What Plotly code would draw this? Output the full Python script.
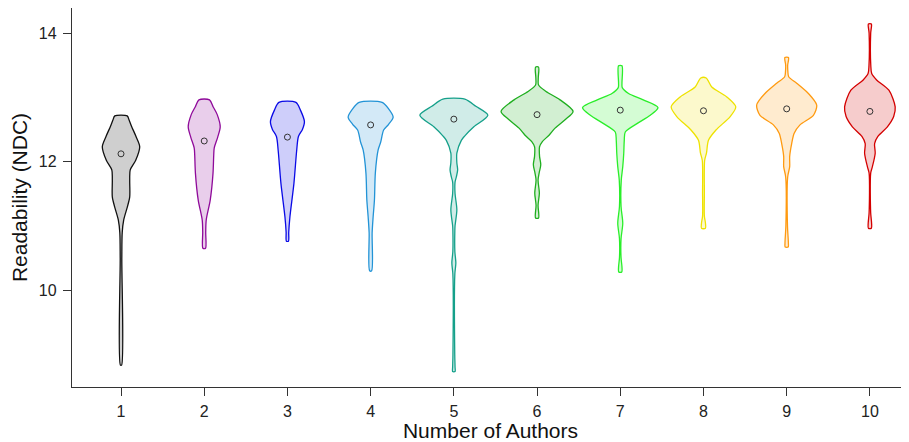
import plotly.graph_objects as go

# Number of authors (categories)
authors = [1, 2, 3, 4, 5, 6, 7, 8, 9, 10]

# Violin density profiles: readability levels (top -> bottom)
# and relative half-widths (density) at those levels.
v1_y = [12.71, 12.65, 12.55, 12.39, 12.23, 12.02, 11.87, 11.71, 11.45, 11.29, 11.09, 10.89, 10.5, 8.83]
v1_d = [6.2, 8.0, 10.5, 15.0, 18.7, 14.7, 9.2, 8.7, 8.7, 6.3, 2.7, 1.2, 0.8, 0.6]

v2_y = [12.96, 12.85, 12.73, 12.54, 12.38, 12.21, 12.10, 11.82, 11.40, 11.09, 10.9, 10.65]
v2_d = [5.3, 9.0, 13.0, 16.0, 13.5, 10.0, 9.5, 8.8, 6.0, 2.0, 1.5, 1.3]

v3_y = [12.92, 12.80, 12.62, 12.50, 12.39, 12.18, 11.66, 11.14, 10.9, 10.76]
v3_d = [8.5, 13.0, 17.0, 15.0, 11.0, 9.3, 6.5, 2.5, 1.3, 1.0]

v4_y = [12.92, 12.82, 12.69, 12.58, 12.49, 12.30, 12.18, 11.82, 11.40, 11.14, 10.89, 10.30]
v4_d = [11.5, 18.0, 22.5, 18.0, 13.0, 10.0, 7.5, 4.7, 3.8, 2.5, 1.5, 1.0]

v5_y = [12.97, 12.86, 12.72, 12.54, 12.40, 12.33, 12.13, 11.98, 11.87, 11.76, 11.68, 11.50,
        11.25, 11.0, 10.93, 10.6, 10.42, 10.25, 9.0, 8.80, 8.73]
v5_d = [11.0, 22.0, 34.0, 20.0, 11.0, 7.5, 3.0, 3.0, 3.8, 2.5, 1.2, 1.2,
        3.0, 1.2, 1.0, 1.0, 2.0, 1.0, 0.9, 1.2, 1.2]

v6_y = [13.47, 13.30, 13.19, 13.09, 12.96, 12.78, 12.65, 12.52, 12.41, 12.31, 12.23, 12.08,
        11.95, 11.83, 11.71, 11.51, 11.32, 11.12]
v6_d = [1.5, 1.2, 1.5, 9.0, 23.0, 36.0, 28.0, 18.0, 12.0, 5.3, 2.5, 2.5,
        3.7, 2.2, 1.0, 2.3, 1.0, 1.5]

v7_y = [13.49, 13.22, 13.15, 13.06, 12.96, 12.84, 12.72, 12.59, 12.46, 12.33, 12.13, 11.92,
        11.71, 11.3, 11.04, 10.8, 10.5, 10.36, 10.28]
v7_d = [1.7, 1.7, 2.0, 8.3, 23.0, 37.7, 30.0, 16.7, 5.0, 4.0, 3.5, 2.5,
        1.0, 0.8, 2.5, 0.8, 0.8, 1.7, 1.5]

v8_y = [13.30, 13.16, 13.01, 12.85, 12.70, 12.49, 12.33, 12.13, 12.02, 11.5, 11.15, 11.04, 10.96]
v8_d = [2.7, 8.3, 23.0, 32.3, 26.7, 12.5, 5.0, 3.0, 1.2, 0.9, 0.9, 2.0, 2.0]

v9_y = [13.62, 13.50, 13.40, 13.32, 13.22, 13.06, 12.88, 12.72, 12.57, 12.44, 12.28, 12.08,
        11.92, 11.76, 11.0, 10.73, 10.67]
v9_d = [1.8, 1.0, 1.2, 2.0, 10.0, 21.7, 30.0, 26.7, 13.3, 7.5, 5.0, 3.0,
        3.0, 1.0, 0.8, 1.7, 1.5]

v10_y = [14.14, 14.0, 13.5, 13.37, 13.27, 13.11, 12.85, 12.70, 12.54, 12.39, 12.28, 12.13,
         11.92, 11.82, 11.2, 11.04, 10.96]
v10_d = [1.5, 0.8, 0.9, 1.8, 6.7, 19.0, 25.3, 23.8, 17.5, 8.0, 4.7, 5.3,
         2.5, 0.8, 0.8, 1.7, 1.5]

# Mean readability per group (open circles)
means = [12.12, 12.32, 12.38, 12.57, 12.66, 12.73, 12.80, 12.79, 12.82, 12.78]

profiles_y = [v1_y, v2_y, v3_y, v4_y, v5_y, v6_y, v7_y, v8_y, v9_y, v10_y]
profiles_d = [v1_d, v2_d, v3_d, v4_d, v5_d, v6_d, v7_d, v8_d, v9_d, v10_d]

line_colors = ["#111111", "#8f0a9a", "#0a0ae6", "#2293d6", "#15a08a",
               "#1fae1f", "#2aee2a", "#eee200", "#ff9a10", "#d40000"]

WIDTH_SCALE = 1 / 83.2  # density units -> category units


def rgba(hexc, a):
    h = hexc.lstrip("#")
    r, g, b = int(h[0:2], 16), int(h[2:4], 16), int(h[4:6], 16)
    return f"rgba({r},{g},{b},{a})"


fig = go.Figure()
for c, ys, ds, col in zip(authors, profiles_y, profiles_d, line_colors):
    xl = [c - d * WIDTH_SCALE for d in ds]
    xr = [c + d * WIDTH_SCALE for d in ds]
    xs = xl + xr[::-1] + [xl[0]]
    yy = ys + ys[::-1] + [ys[0]]
    fig.add_trace(go.Scatter(
        x=xs, y=yy, mode="lines", fill="toself",
        fillcolor=rgba(col, 0.2),
        line=dict(color=col, width=1.3, shape="spline", smoothing=0.8),
        hoverinfo="skip", showlegend=False,
    ))

fig.add_trace(go.Scatter(
    x=authors, y=means, mode="markers",
    marker=dict(symbol="circle-open", size=6, color="#333333", line=dict(width=1)),
    showlegend=False,
))

axis_font = dict(family="Liberation Sans, Arial, sans-serif", size=16, color="#222222")
title_font = dict(family="Liberation Sans, Arial, sans-serif", size=21, color="#111111")

fig.update_layout(
    width=901, height=434,
    margin=dict(l=64, r=0, t=0, b=55, autoexpand=False),
    paper_bgcolor="white", plot_bgcolor="white",
    xaxis=dict(
        range=[0.411, 10.47], tickmode="array", tickvals=authors,
        ticktext=[str(a) for a in authors],
        showgrid=False, zeroline=False, showline=True, linecolor="#333333", linewidth=1.3,
        ticks="outside", ticklen=8, tickcolor="#333333", tickwidth=1.2,
        tickfont=axis_font, ticklabelstandoff=2,
        title=dict(text="Number of Authors", font=title_font, standoff=2),
    ),
    yaxis=dict(
        range=[8.49, 14.39], tickmode="array", tickvals=[10, 12, 14],
        showgrid=False, zeroline=False, showline=True, linecolor="#333333", linewidth=1.3,
        ticks="outside", ticklen=8, tickcolor="#333333", tickwidth=1.2,
        tickfont=axis_font, ticklabelstandoff=3,
        title=dict(text="Readability (NDC)", font=title_font, standoff=6),
    ),
)

fig.write_html("out.html")
